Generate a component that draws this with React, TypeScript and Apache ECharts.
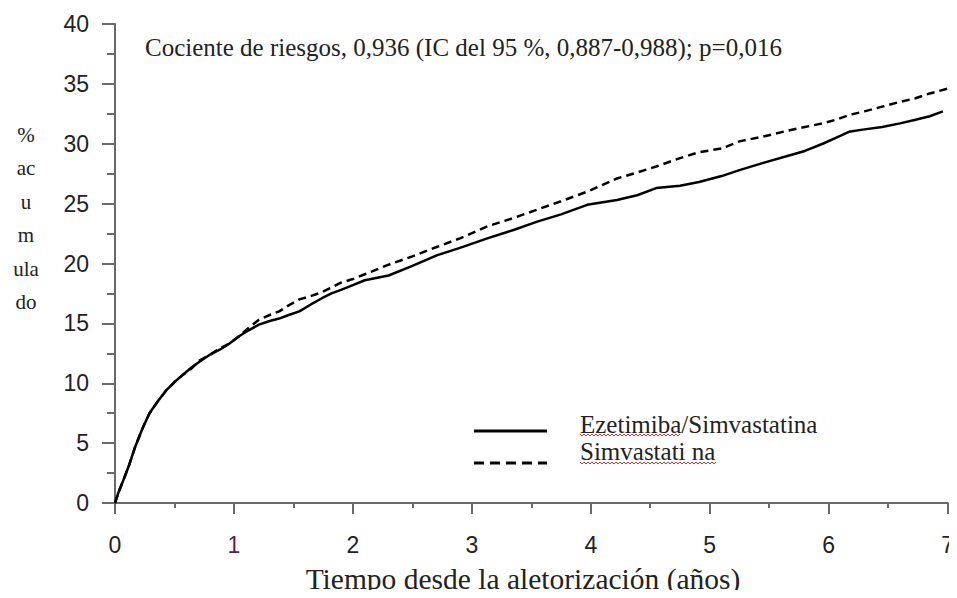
import React, { useEffect, useRef } from "react";
import * as echarts from "echarts";

const xTicks = [0, 1, 2, 3, 4, 5, 6, 7];
const yTicks = [0, 5, 10, 15, 20, 25, 30, 35, 40];

const solidName = "Ezetimiba/Simvastatina";
const dashName = "Simvastati na";

const solidT = [0, 0.03, 0.07, 0.12, 0.17, 0.23, 0.29, 0.36, 0.43, 0.5, 0.57, 0.64, 0.71, 0.8, 0.88, 0.96, 1.04, 1.12, 1.21, 1.3, 1.38, 1.46, 1.55, 1.65, 1.74, 1.82, 1.9, 2.0, 2.1, 2.3, 2.5, 2.71, 2.9, 3.13, 3.35, 3.55, 3.75, 3.97, 4.22, 4.39, 4.55, 4.75, 4.91, 5.1, 5.25, 5.45, 5.66, 5.8, 5.95, 6.06, 6.17, 6.3, 6.45, 6.6, 6.73, 6.85, 6.96];
const solidV = [0, 0.9, 1.9, 3.2, 4.7, 6.2, 7.5, 8.5, 9.4, 10.1, 10.7, 11.3, 11.8, 12.4, 12.8, 13.3, 13.9, 14.4, 14.9, 15.2, 15.4, 15.7, 16.0, 16.6, 17.1, 17.5, 17.8, 18.2, 18.6, 19.0, 19.8, 20.7, 21.3, 22.1, 22.8, 23.5, 24.1, 24.9, 25.3, 25.7, 26.3, 26.5, 26.8, 27.3, 27.8, 28.4, 29.0, 29.4, 30.0, 30.5, 31.0, 31.2, 31.4, 31.7, 32.0, 32.3, 32.7];

const dashT = [0, 0.03, 0.07, 0.12, 0.17, 0.23, 0.29, 0.36, 0.43, 0.5, 0.57, 0.64, 0.71, 0.8, 0.88, 0.96, 1.04, 1.12, 1.21, 1.3, 1.38, 1.46, 1.55, 1.65, 1.74, 1.82, 1.9, 2.0, 2.1, 2.3, 2.5, 2.71, 2.9, 3.13, 3.35, 3.55, 3.75, 3.97, 4.22, 4.39, 4.55, 4.75, 4.91, 5.1, 5.25, 5.45, 5.66, 5.8, 5.95, 6.06, 6.17, 6.3, 6.45, 6.6, 6.73, 6.85, 7.0];
const dashV = [0, 0.9, 1.9, 3.2, 4.7, 6.2, 7.5, 8.5, 9.4, 10.1, 10.7, 11.2, 11.9, 12.4, 12.9, 13.3, 13.9, 14.6, 15.3, 15.7, 16.0, 16.5, 17.0, 17.3, 17.6, 18.0, 18.4, 18.7, 19.1, 19.9, 20.6, 21.4, 22.1, 23.1, 23.8, 24.5, 25.2, 26.0, 27.1, 27.6, 28.1, 28.8, 29.3, 29.6, 30.2, 30.6, 31.1, 31.4, 31.7, 32.0, 32.4, 32.7, 33.1, 33.5, 33.8, 34.2, 34.6];

const annotation = "Cociente de riesgos, 0,936 (IC del 95 %, 0,887-0,988); p=0,016";
const xTitle = "Tiempo desde la aletorización (años)";
const yTitleLines = ["%", "ac", "u", "m", "ula", "do"];

const SERIF = "'Liberation Serif', 'Times New Roman', serif";
const SANS = "'Liberation Sans', Arial, sans-serif";

function squiggle(x0: number, x1: number, y: number) {
  const pts: number[][] = [];
  let up = true;
  for (let x = x0; x <= x1; x += 2) {
    pts.push([x, up ? y - 1 : y + 1]);
    up = !up;
  }
  return {
    type: "polyline",
    shape: { points: pts },
    style: { stroke: "#e03030", lineWidth: 1, fill: null },
    silent: true,
  };
}

export default function App() {
  const ref = useRef<HTMLDivElement>(null);
  useEffect(() => {
    if (!ref.current) return;
    const chart = echarts.init(ref.current, null, { renderer: "svg" });
    const axisColor = "#6a6a6a";
    const option: any = {
      animation: false,
      backgroundColor: "#fff",
      grid: { left: 115, right: 6, top: 24, bottom: 95, containLabel: false },
      xAxis: {
        type: "value",
        min: 0,
        max: 7,
        interval: 1,
        axisLine: { show: true, onZero: false, lineStyle: { color: axisColor, width: 2 } },
        axisTick: { show: true, length: 11, lineStyle: { color: axisColor, width: 2 } },
        minorTick: { show: true, splitNumber: 2, length: 5, lineStyle: { color: axisColor, width: 2 } },
        splitLine: { show: false },
        axisLabel: {
          margin: 30,
          fontFamily: SANS,
          fontSize: 23,
          color: "#222",
          formatter: (v: number) => (v === 1 ? "{p|1}" : String(v)),
          rich: { p: { color: "#5b2346", fontFamily: SANS, fontSize: 23 } },
        },
      },
      yAxis: {
        type: "value",
        min: 0,
        max: 40,
        interval: 5,
        axisLine: { show: true, onZero: false, lineStyle: { color: axisColor, width: 2 } },
        axisTick: { show: true, length: 13, lineStyle: { color: axisColor, width: 2 } },
        minorTick: { show: true, splitNumber: 2, length: 8, lineStyle: { color: axisColor, width: 2 } },
        splitLine: { show: false },
        axisLabel: { margin: 26, fontFamily: SANS, fontSize: 23, color: "#222" },
      },
      series: [
        {
          name: solidName,
          type: "line",
          data: solidT.map((t, i) => [t, solidV[i]]),
          showSymbol: false,
          symbol: "none",
          lineStyle: { color: "#000", width: 2.5 },
          z: 3,
        },
        {
          name: dashName,
          type: "line",
          data: dashT.map((t, i) => [t, dashV[i]]),
          showSymbol: false,
          symbol: "none",
          lineStyle: { color: "#000", width: 2.5, type: [8, 5] },
          z: 2,
        },
      ],
      graphic: [
        {
          type: "text",
          x: 145,
          y: 47,
          style: { text: annotation, font: `25px ${SERIF}`, fill: "#222", verticalAlign: "middle" },
        },
        {
          type: "text",
          x: 26,
          y: 118,
          style: {
            text: yTitleLines.join("\n"),
            font: `21px ${SERIF}`,
            fill: "#222",
            align: "center",
            lineHeight: 33.5,
          },
        },
        {
          type: "text",
          x: 523,
          y: 579,
          style: {
            text: xTitle,
            font: `29.5px ${SERIF}`,
            fill: "#222",
            align: "center",
            verticalAlign: "middle",
          },
        },
        {
          type: "line",
          shape: { x1: 474, y1: 431, x2: 547, y2: 431 },
          style: { stroke: "#000", lineWidth: 3 },
        },
        {
          type: "line",
          shape: { x1: 474, y1: 463, x2: 547, y2: 463 },
          style: { stroke: "#000", lineWidth: 3, lineDash: [10, 6] },
        },
        {
          type: "text",
          x: 580,
          y: 424,
          style: { text: solidName, font: `25px ${SERIF}`, fill: "#222", verticalAlign: "middle" },
        },
        {
          type: "text",
          x: 580,
          y: 451,
          style: { text: dashName, font: `25px ${SERIF}`, fill: "#222", verticalAlign: "middle" },
        },
        squiggle(580, 681, 435),
        squiggle(580, 716, 463),
        squiggle(507, 660, 592),
      ],
    };
    chart.setOption(option);
    return () => chart.dispose();
  }, []);
  return <div ref={ref} style={{ width: 957, height: 598, margin: -8 }} />;
}
